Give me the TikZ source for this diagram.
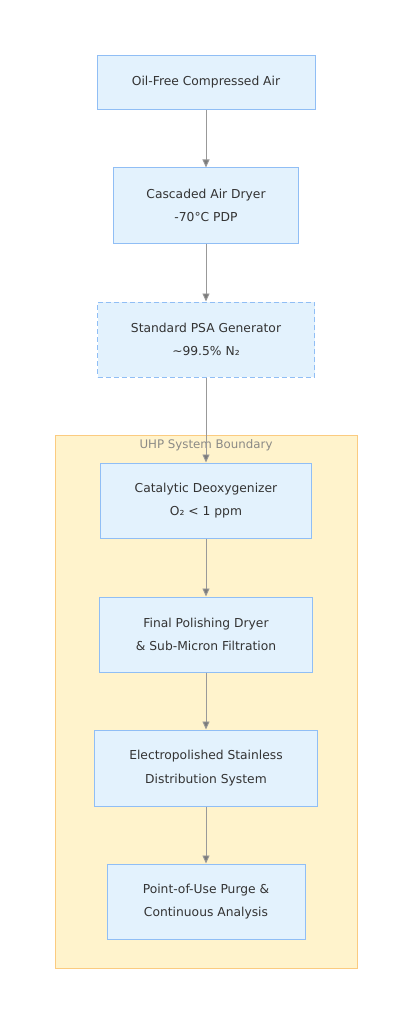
\documentclass[tikz,border=0pt]{standalone}
\usepackage{fontspec}
\setmainfont{DejaVu Sans}
\usetikzlibrary{arrows.meta}
\definecolor{boxfill}{HTML}{E3F2FD}
\definecolor{boxline}{HTML}{90BEF5}
\definecolor{zonefill}{HTML}{FFF3CC}
\definecolor{zoneline}{HTML}{FBCB80}
\definecolor{flow}{HTML}{999999}
\definecolor{ink}{HTML}{333333}
\tikzset{
  stage/.style={draw=boxline, fill=boxfill, line width=1pt, text=ink, align=center,
    font=\fontsize{12.3}{23.5}\selectfont, inner sep=0pt},
  flowline/.style={draw=flow, line width=0.9pt, -{Triangle[length=8pt,width=7pt,fill=flow!80!black]}}
}
\begin{document}
\begin{tikzpicture}[x=1pt,y=-1pt]
\useasboundingbox (0,0) rectangle (413,1024);
\draw [fill=zonefill, draw=zoneline, line width=1pt] (55,435) rectangle (357,968);
\node (zonelabel) [text=flow!90!zonefill!85!black, font=\fontsize{11.8}{12}\selectfont] at (206,445) {UHP System Boundary};
\node (air) [stage, minimum width=218pt, minimum height=54pt] at (206,82.5) {Oil-Free Compressed Air};
\node (dryer) [stage, minimum width=185pt, minimum height=75pt] at (206,205.5) {Cascaded Air Dryer\\-70°C PDP};
\node (psa) [stage, dashed, dash pattern=on 5pt off 3pt, minimum width=217pt, minimum height=75pt] at (206,339.5) {Standard PSA Generator\\\char"7E 99.5\% N₂};
\node (deoxo) [stage, minimum width=211pt, minimum height=75pt] at (206,500.5) {Catalytic Deoxygenizer\\O₂ < 1 ppm};
\node (polish) [stage, minimum width=213pt, minimum height=75pt] at (206,634.5) {Final Polishing Dryer\\\& Sub-Micron Filtration};
\node (distrib) [stage, minimum width=223pt, minimum height=76pt] at (206,768) {Electropolished Stainless\\Distribution System};
\node (pou) [stage, minimum width=198pt, minimum height=75pt] at (206,901.5) {Point-of-Use Purge \&\\Continuous Analysis};
\draw [flowline] (air) -- (dryer);
\draw [flowline] (dryer) -- (psa);
\draw [flowline] (psa) -- (deoxo);
\draw [flowline] (deoxo) -- (polish);
\draw [flowline] (polish) -- (distrib);
\draw [flowline] (distrib) -- (pou);
\end{tikzpicture}
\end{document}
